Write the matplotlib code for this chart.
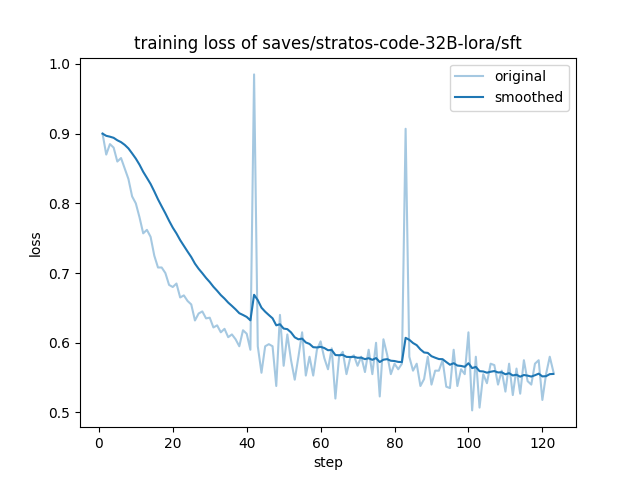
import math
import matplotlib
matplotlib.use("Agg")
import matplotlib.pyplot as plt

# loss values, one per step
steps = list(range(1, 124))
loss = [
    0.900, 0.870, 0.885, 0.880, 0.860, 0.865, 0.850, 0.835, 0.810, 0.800,
    0.780, 0.757, 0.762, 0.752, 0.725, 0.708, 0.708, 0.700, 0.683, 0.680,
    0.685, 0.665, 0.668, 0.660, 0.655, 0.632, 0.642, 0.645, 0.635, 0.636,
    0.622, 0.625, 0.615, 0.620, 0.608, 0.612, 0.605, 0.595, 0.618, 0.613,
    0.590, 0.985, 0.595, 0.557, 0.595, 0.598, 0.595, 0.538, 0.640, 0.567,
    0.612, 0.575, 0.547, 0.580, 0.615, 0.553, 0.580, 0.553, 0.590, 0.602,
    0.578, 0.562, 0.592, 0.520, 0.580, 0.587, 0.555, 0.578, 0.582, 0.567,
    0.580, 0.558, 0.590, 0.555, 0.600, 0.523, 0.605, 0.583, 0.555, 0.570,
    0.562, 0.570, 0.907, 0.580, 0.560, 0.570, 0.538, 0.548, 0.580, 0.540,
    0.560, 0.560, 0.575, 0.537, 0.535, 0.590, 0.538, 0.562, 0.555, 0.615,
    0.503, 0.580, 0.507, 0.555, 0.542, 0.570, 0.568, 0.540, 0.560, 0.530,
    0.570, 0.525, 0.563, 0.527, 0.575, 0.545, 0.540, 0.570, 0.575, 0.518,
    0.555, 0.580, 0.558,
]


#exponential moving average with a sigmoid-shaped weight, as the trainer does it
def smooth(scalars):
    last = scalars[0]
    out = []
    weight = 1.8 * (1 / (1 + math.exp(-0.05 * len(scalars))) - 0.5)
    for v in scalars:
        last = last * weight + (1 - weight) * v
        out.append(last)
    return out


fig = plt.figure(figsize=(6.4, 4.8), dpi=100)
plt.plot(steps, loss, color="#1f77b4", alpha=0.4, label="original")
plt.plot(steps, smooth(loss), color="#1f77b4", label="smoothed")
plt.title("training loss of saves/stratos-code-32B-lora/sft")
plt.xlabel("step")
plt.ylabel("loss")
plt.legend()
plt.savefig("out.png", dpi=100)
